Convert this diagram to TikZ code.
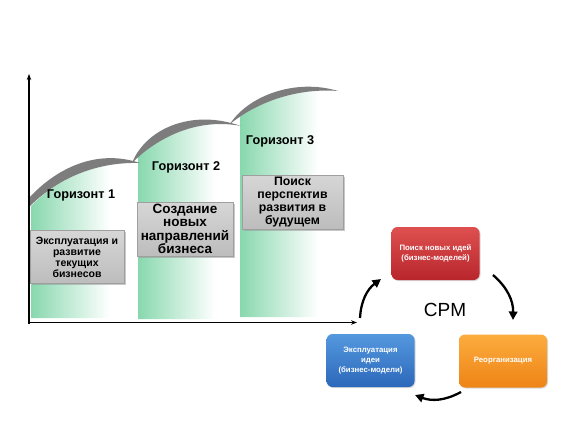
\documentclass[tikz,border=0pt]{standalone}
\usepackage{fontspec}
\setmainfont{Liberation Sans}
\usetikzlibrary{arrows.meta,shadows}
\definecolor{mint}{RGB}{136,216,174}
\definecolor{swgray}{RGB}{125,125,125}
\definecolor{redtop}{RGB}{222,80,80}
\definecolor{redbot}{RGB}{184,38,44}
\definecolor{ortop}{RGB}{252,172,62}
\definecolor{orbot}{RGB}{238,132,22}
\definecolor{bltop}{RGB}{84,152,222}
\definecolor{blbot}{RGB}{44,104,186}

\begin{document}
\begin{tikzpicture}[x=1pt,y=-1pt,
	axis/.style={line width=1.3pt,-{Stealth[length=6pt,width=4.5pt]}},
	swoosh/.style={fill=swgray,draw=none},
	bar/.style={left color=mint,right color=white,draw=none},
	horizon/.style={font=\bfseries\fontsize{12.7}{14}\selectfont},
	gbox/.style={draw=gray!75,top color=gray!32,bottom color=gray!52,inner sep=0pt,align=center,
		drop shadow={shadow xshift=1.5pt,shadow yshift=-1.5pt,fill=gray!85}},
	cbox/.style={rounded corners=6pt,inner sep=0pt,minimum width=88pt,minimum height=53pt,align=center,
		text=white,font=\bfseries\fontsize{7.8}{10.3}\selectfont,
		drop shadow={shadow xshift=1pt,shadow yshift=-1pt,fill=gray!60}},
	cycle/.style={line width=2.3pt,-{Triangle[length=8.5pt,width=8.5pt]}}]
	\useasboundingbox (0,0) rectangle (578,433);

	\begin{scope}
		\clip (31,318) -- (31,206) .. controls (65,172) and (105,162) .. (140,163) -- (140,318) -- cycle;
		\shade[bar] (31,150) rectangle (110,318);
	\end{scope}
	\begin{scope}
		\clip (132,163) .. controls (160,135) and (200,118) .. (240,126) -- (240,319) -- (132,319) -- cycle;
		\shade[bar] (138,110) rectangle (215,319);
	\end{scope}
	\begin{scope}
		\clip (230,124) .. controls (260,100) and (300,88) .. (338,91) -- (338,317) -- (230,317) -- cycle;
		\shade[bar] (240,85) rectangle (318,317);
	\end{scope}

	\fill[swoosh] (30,197) .. controls (55,170) and (95,148) .. (140,163) .. controls (105,162) and (65,172) .. (30,206) -- cycle;
	\fill[swoosh] (132,163) .. controls (145,130) and (190,108) .. (241,126) .. controls (200,118) and (160,135) .. (132,163) -- cycle;
	\fill[swoosh] (230,124) .. controls (248,96) and (295,78) .. (338,91) .. controls (300,88) and (260,100) .. (230,124) -- cycle;

	\draw[axis] (29,323.5) -- (29,74);
	\draw[axis] (28,322.5) -- (357,322.5);

	\node[horizon] (h1) at (81,195) {Горизонт 1};
	\node[horizon] (h2) at (186,167.5) {Горизонт 2};
	\node[horizon] (h3) at (280,141) {Горизонт 3};

	\node[gbox,minimum width=94pt,minimum height=53pt,font=\bfseries\fontsize{10.5}{11}\selectfont] (exploit) at (77,257) {Эксплуатация и\\развитие\\текущих\\бизнесов};
	\node[gbox,minimum width=96pt,minimum height=54pt,font=\bfseries\fontsize{13.5}{13.3}\selectfont] (create) at (185,229) {Создание\\новых\\направлений\\бизнеса};
	\node[gbox,minimum width=101pt,minimum height=54pt,font=\bfseries\fontsize{12.3}{13.3}\selectfont] (search) at (292.5,202) {Поиск\\перспектив\\развития в\\будущем};

	\node[cbox,top color=redtop,bottom color=redbot] (ideas) at (435.5,253.5) {Поиск новых идей\\(бизнес-моделей)};
	\node[cbox,top color=ortop,bottom color=orbot] (reorg) at (503,361) {Реорганизация};
	\node[cbox,top color=bltop,bottom color=blbot] (use) at (370.5,360.5) {Эксплуатация\\идеи\\(бизнес-модели)};
	\node[font=\fontsize{19}{20}\selectfont] (cpm) at (445,310) {CPM};

	\coordinate (a1s) at (360,318);
	\coordinate (a1e) at (381,279);
	\coordinate (a2s) at (493,275);
	\coordinate (a2e) at (513,320);
	\coordinate (a3s) at (461,392);
	\coordinate (a3e) at (415,395);
	\draw[cycle] (a1s) to[bend left=25] (a1e);
	\draw[cycle] (a2s) to[bend left=25] (a2e);
	\draw[cycle] (a3s) to[bend left=25] (a3e);
\end{tikzpicture}
\end{document}
